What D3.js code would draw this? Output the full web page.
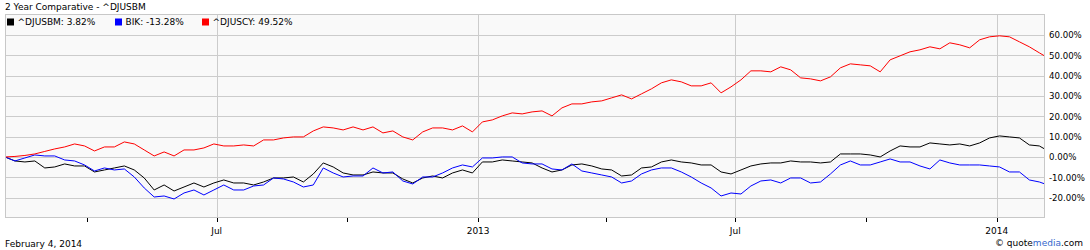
<!DOCTYPE html>
<html>
<head>
<meta charset="utf-8">
<script src="https://cdn.jsdelivr.net/npm/d3@7"></script>
<style>
  html, body { margin: 0; padding: 0; background: #ffffff; }
  svg { display: block; font-family: "DejaVu Sans", Verdana, sans-serif; }
</style>
</head>
<body>
<svg id="chart" width="1090" height="250"></svg>
<script>
// ---- Data (weekly samples, % change since start) ----
const startDate = "2012-02-03";
const endDate = "2014-02-04";

const djusbm = [0,-1.97,-2.46,-1.97,-5.41,-4.92,-3.44,-4.43,-4.43,-7.38,-6.39,-5.41,-4.43,-6.39,-10.33,-16.23,-13.77,-16.73,-14.76,-12.79,-14.76,-12.79,-11.31,-12.79,-12.79,-13.77,-12.30,-10.33,-10.33,-9.84,-12.30,-8.36,-2.95,-4.92,-7.87,-8.85,-8.85,-7.38,-7.87,-7.87,-10.82,-12.79,-10.33,-9.35,-10.33,-7.87,-6.39,-7.87,-2.46,-2.46,-1.48,-1.97,-2.46,-2.95,-5.41,-7.38,-6.39,-3.94,-3.44,-4.43,-5.90,-6.39,-9.35,-8.85,-5.41,-4.92,-2.46,-1.48,-2.46,-2.95,-3.94,-3.94,-7.38,-8.36,-6.39,-4.43,-3.44,-2.95,-2.95,-1.97,-2.46,-2.46,-2.95,-2.46,1.48,1.48,1.48,0.98,0,2.95,5.41,4.92,4.92,6.89,6.39,5.90,6.39,5.41,6.89,9.35,10.33,9.84,9.35,5.90,5.41,3.82];

const bik = [0,-1.97,-0.49,0.98,0.49,0.49,-1.48,-1.97,-3.94,-6.89,-5.41,-6.39,-5.90,-9.84,-15.25,-19.68,-19.18,-20.66,-17.71,-16.23,-18.69,-16.23,-13.77,-16.23,-16.23,-14.26,-13.77,-10.33,-10.82,-12.30,-14.76,-13.77,-5.41,-7.87,-9.84,-9.35,-9.35,-5.41,-7.87,-7.38,-11.81,-13.28,-9.84,-9.84,-7.87,-5.41,-3.94,-4.92,-0.49,-0.49,0,0,-2.95,-3.44,-3.44,-5.90,-6.39,-3.44,-6.89,-7.87,-8.85,-9.84,-12.79,-11.81,-8.36,-6.39,-5.41,-5.41,-7.38,-9.84,-12.79,-15.25,-19.18,-17.71,-18.20,-14.26,-11.81,-11.31,-12.79,-10.33,-10.33,-12.79,-12.30,-8.36,-3.94,-1.97,-3.94,-3.94,-2.46,-0.98,-2.46,-2.46,-4.43,-5.90,-1.48,-2.95,-3.94,-3.94,-3.94,-4.43,-4.92,-7.38,-7.38,-11.31,-12.30,-13.28];

const djuscy = [0,0.25,0.74,1.48,2.71,3.94,4.92,6.39,5.41,2.95,4.92,4.92,7.38,6.39,3.44,0.49,2.46,0.49,3.44,3.44,4.43,6.39,5.41,5.41,5.90,5.41,8.36,8.36,9.35,9.84,9.84,12.79,14.76,14.26,13.28,14.76,13.28,14.76,11.81,12.79,9.84,8.36,12.30,14.26,14.26,13.28,15.25,12.30,17.22,18.20,20.17,21.65,21.15,22.14,22.63,20.17,24.11,26.07,26.07,27.06,27.55,29.03,30.50,28.53,31.00,33.46,36.41,37.88,36.90,34.93,34.93,36.41,31.49,34.44,37.88,42.31,42.31,41.82,44.28,42.80,38.86,38.37,37.39,39.35,43.79,45.75,45.26,44.77,41.82,47.72,49.69,51.66,52.64,54.12,53.13,56.08,55.10,53.62,57.56,59.03,59.52,59.03,56.57,54.12,51.17,49.52];

const seriesNames = ["^DJUSBM", "BIK", "^DJUSCY"];
const seriesColors = ["#000000", "#0000ff", "#ff0000"];
const seriesValues = [djusbm, bik, djuscy];

const yTicks = [60, 50, 40, 30, 20, 10, 0, -10, -20];
const xLabelTicks = [["2012-07-01", "Jul"], ["2013-01-01", "2013"], ["2013-07-01", "Jul"], ["2014-01-01", "2014"]];
const xMinorTicks = ["2012-04-01", "2012-10-01", "2013-04-01", "2013-10-01"];

const title = "2 Year Comparative - ^DJUSBM";
const dateLabel = "February 4, 2014";

// number format with plain hyphen-minus
const fmtPct = v => d3.format(".2f")(v).replace("\u2212", "-") + "%";

// ---- Build dates: weekly from start, final point = end date ----
const parse = d3.timeParse("%Y-%m-%d");
const t0 = parse(startDate), t1 = parse(endDate);
const nPts = djusbm.length;
const dates = d3.range(nPts).map(i => i === nPts - 1 ? t1 : d3.timeDay.offset(t0, 7 * i));

// ---- Layout ----
const L = 5, R = 1045, T = 14, B = 218;
const svg = d3.select("#chart");

const x = d3.scaleTime().domain([t0, t1]).range([L, R]);
const y = d3.scaleLinear().domain([-30, 70]).range([B, T + 0.5]);

// plot background
svg.append("rect").attr("x", L).attr("y", T).attr("width", R - L).attr("height", B - T)
  .attr("fill", "#f9f9f9");

// horizontal grid
svg.append("g").selectAll("line").data(yTicks).join("line")
  .attr("x1", L).attr("x2", R)
  .attr("y1", d => Math.round(y(d)) + 0.5).attr("y2", d => Math.round(y(d)) + 0.5)
  .attr("stroke", "#cccccc").attr("stroke-width", 1);

// vertical grid at labeled ticks
svg.append("g").selectAll("line").data(xLabelTicks).join("line")
  .attr("x1", d => Math.round(x(parse(d[0]))) + 0.5).attr("x2", d => Math.round(x(parse(d[0]))) + 0.5)
  .attr("y1", T).attr("y2", B)
  .attr("stroke", "#cccccc").attr("stroke-width", 1);

// series lines
const line = d3.line().x((d, i) => x(dates[i])).y(d => y(d));
seriesValues.forEach((vals, si) => {
  svg.append("path").datum(vals)
    .attr("fill", "none").attr("stroke", seriesColors[si]).attr("stroke-width", 1)
    .attr("stroke-linejoin", "round")
    .attr("d", line);
});

// frame
svg.append("rect").attr("x", L + 0.5).attr("y", T + 0.5).attr("width", R - L - 1).attr("height", B - T - 1)
  .attr("fill", "none").attr("stroke", "#c8c8c8");

// x ticks
const allTicks = xLabelTicks.map(d => d[0]).concat(xMinorTicks);
svg.append("g").selectAll("line").data(allTicks).join("line")
  .attr("x1", d => Math.round(x(parse(d))) + 0.5).attr("x2", d => Math.round(x(parse(d))) + 0.5)
  .attr("y1", B).attr("y2", B + 4)
  .attr("stroke", "#000").attr("stroke-width", 1);

svg.append("g").selectAll("text").data(xLabelTicks).join("text")
  .attr("x", d => x(parse(d[0]))).attr("y", 233.5)
  .attr("text-anchor", "middle").attr("font-size", "9px").attr("fill", "#000")
  .text(d => d[1]);

// y tick labels (right)
svg.append("g").selectAll("text").data(yTicks).join("text")
  .attr("x", 1049).attr("y", d => y(d) + 3.3)
  .attr("font-size", "8.6px").attr("fill", "#000")
  .text(d => fmtPct(d));

// title
svg.append("text").attr("x", 5).attr("y", 10).attr("font-size", "9px").attr("fill", "#000").text(title);

// legend
const legendX = [7, 115, 202];
seriesNames.forEach((name, i) => {
  const vals = seriesValues[i];
  const last = vals[vals.length - 1];
  svg.append("rect").attr("x", legendX[i]).attr("y", 18.5).attr("width", 7).attr("height", 7)
    .attr("fill", seriesColors[i]);
  svg.append("text").attr("x", legendX[i] + 10.5).attr("y", 25.3).attr("font-size", "9px").attr("fill", "#000")
    .text(name + ": " + fmtPct(last));
});

// bottom texts
svg.append("text").attr("x", 5).attr("y", 247).attr("font-size", "9px").attr("fill", "#000").text(dateLabel);
const cr = svg.append("text").attr("x", 1083).attr("y", 246).attr("text-anchor", "end").attr("font-size", "9px").attr("fill", "#000");
cr.append("tspan").text("\u00a9 quote");
cr.append("tspan").attr("fill", "#3366cc").text("media");
cr.append("tspan").text(".com");
</script>
</body>
</html>
